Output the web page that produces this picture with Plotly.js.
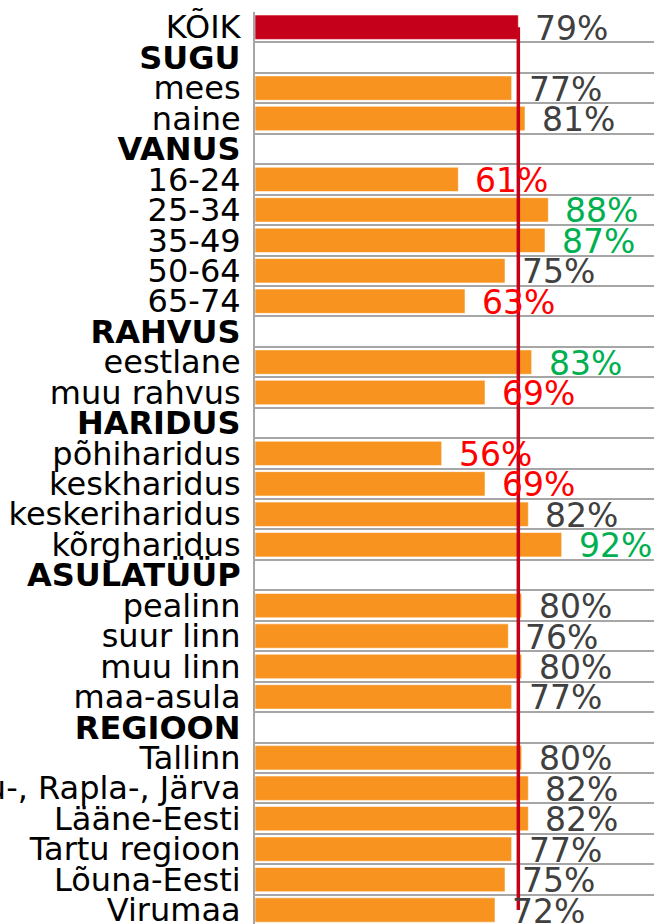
<!DOCTYPE html>
<html>
<head>
<meta charset="utf-8">
<script src="https://cdn.plot.ly/plotly-3.0.1.min.js"></script>
<style>html,body{margin:0;padding:0;background:#fff;}#chart{width:654px;height:924px;}</style>
</head>
<body>
<div id="chart"></div>
<script>
// Rows from top to bottom
const categories = [
  "KÕIK","SUGU","mees","naine","VANUS","16-24","25-34","35-49","50-64","65-74",
  "RAHVUS","eestlane","muu rahvus","HARIDUS","põhiharidus","keskharidus","keskeriharidus","kõrgharidus",
  "ASULATÜÜP","pealinn","suur linn","muu linn","maa-asula",
  "REGIOON","Tallinn","Harju-, Rapla-, Järva","Lääne-Eesti","Tartu regioon","Lõuna-Eesti","Virumaa"
];
// null = group header row (no bar)
const values = [
  79,null,77,81,null,61,88,87,75,63,
  null,83,69,null,56,69,82,92,
  null,80,76,80,77,
  null,80,82,82,77,75,72
];
// 1 = header row (bold label)
const isHeader = [
  0,1,0,0,1,0,0,0,0,0,
  1,0,0,1,0,0,0,0,
  1,0,0,0,0,
  1,0,0,0,0,0,0
];
// difference flag vs. total: -1 lower, 0 same, 1 higher
const signif = [
  0,0,0,0,0,-1,1,1,0,-1,
  0,1,-1,0,-1,-1,0,1,
  0,0,0,0,0,
  0,0,0,0,0,0,0
];
const totalLabel = "KÕIK";

const ORANGE = "#F7931E", RED_BAR = "#C5001A";
const labelColor = {"-1":"#FF0000","0":"#404040","1":"#00B050"};

const totalValue = values[categories.indexOf(totalLabel)];
const barColors = categories.map(c => c === totalLabel ? RED_BAR : ORANGE);
const tickText = categories.map((c,i) => isHeader[i] ? "<b>"+c+"</b>" : c);

const bars = {
  type: "bar", orientation: "h",
  y: categories, x: values,
  marker: {color: barColors, line: {color: "rgba(255,255,255,0.55)", width: 1}},
  width: 0.8,
  hoverinfo: "skip", showlegend: false
};
const refLine = {
  type: "scatter", mode: "lines",
  x: [totalValue, totalValue],
  y: [categories[0], categories[categories.length-1]],
  line: {color: "#C5001A", width: 3.5},
  hoverinfo: "skip", showlegend: false
};

const annotations = [];
categories.forEach((c,i) => {
  if (values[i] === null) return;
  annotations.push({
    x: values[i], y: c, xref: "x", yref: "y",
    text: values[i] + "%", showarrow: false,
    xanchor: "left", yanchor: "middle", xshift: 15, yshift: -1,
    font: {family: "DejaVu Sans", size: 33, color: labelColor[String(signif[i])]}
  });
});

const layout = {
  width: 654, height: 924,
  margin: {l: 255, r: 0, t: 11.8, b: 0},
  paper_bgcolor: "#fff", plot_bgcolor: "#fff",
  bargap: 0.2,
  font: {family: "DejaVu Sans", size: 32, color: "#000"},
  xaxis: {range: [0, 119.7], showgrid: false, zeroline: false, showticklabels: false, ticks: "", fixedrange: true},
  yaxis: {
    type: "category", categoryorder: "array", categoryarray: categories,
    tickmode: "array", tickvals: categories, ticktext: tickText,
    range: [29.46, -0.5],
    tickson: "boundaries", ticks: "", ticklen: 0,
    showgrid: true, gridcolor: "#A6A6A6", gridwidth: 2,
    showline: true, linecolor: "#A6A6A6", linewidth: 2,
    ticklabelstandoff: 6,
    tickfont: {family: "DejaVu Sans", size: 32, color: "#000"},
    automargin: false, fixedrange: true
  },
  annotations: annotations
};

Plotly.newPlot("chart", [bars, refLine], layout, {displayModeBar: false, staticPlot: true});
</script>
</body>
</html>
